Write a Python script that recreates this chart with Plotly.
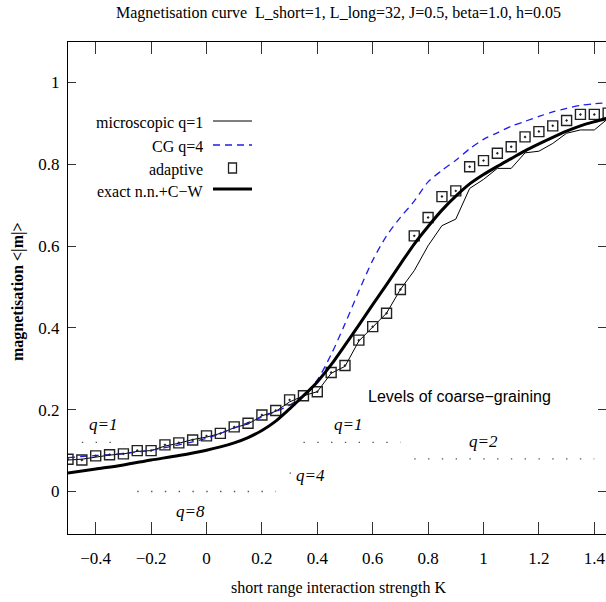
import plotly.graph_objects as go

# ---------------- data ----------------
K_grid = [-0.50, -0.45, -0.40, -0.35, -0.30, -0.25, -0.20, -0.15, -0.10, -0.05,
          0.00, 0.05, 0.10, 0.15, 0.20, 0.25, 0.30, 0.35, 0.40, 0.45,
          0.50, 0.55, 0.60, 0.65, 0.70, 0.75, 0.80, 0.85, 0.90, 0.95,
          1.00, 1.05, 1.10, 1.15, 1.20, 1.25, 1.30, 1.35, 1.40, 1.45]

micro_m = [0.077, 0.079, 0.084, 0.089, 0.092, 0.098, 0.100, 0.111, 0.118, 0.127,
           0.133, 0.142, 0.156, 0.165, 0.185, 0.196, 0.219, 0.234, 0.244, 0.289,
           0.306, 0.368, 0.402, 0.436, 0.494, 0.540, 0.601, 0.650, 0.666, 0.741,
           0.763, 0.790, 0.790, 0.828, 0.832, 0.851, 0.876, 0.884, 0.884, 0.912]

adapt_m = [0.079, 0.077, 0.087, 0.090, 0.092, 0.100, 0.100, 0.114, 0.119, 0.126,
           0.136, 0.142, 0.158, 0.167, 0.187, 0.198, 0.224, 0.234, 0.244, 0.291,
           0.308, 0.370, 0.403, 0.436, 0.494, 0.625, 0.670, 0.721, 0.735, 0.794,
           0.809, 0.827, 0.843, 0.867, 0.880, 0.894, 0.907, 0.922, 0.922, 0.925]

K_cg = [-0.50, -0.40, -0.30, -0.20, -0.10, 0.00, 0.10, 0.20, 0.30, 0.35,
        0.40, 0.45, 0.50, 0.55, 0.60, 0.65, 0.70, 0.75, 0.80, 0.85,
        0.90, 0.95, 1.00, 1.05, 1.10, 1.15, 1.20, 1.25, 1.30, 1.35, 1.40, 1.45]
cg_m = [0.083, 0.088, 0.093, 0.101, 0.114, 0.130, 0.155, 0.182, 0.211, 0.236,
        0.273, 0.335, 0.410, 0.490, 0.565, 0.625, 0.670, 0.710, 0.757, 0.785,
        0.810, 0.838, 0.861, 0.877, 0.893, 0.905, 0.917, 0.928, 0.937, 0.944, 0.948, 0.951]

K_exact = [-0.50, -0.40, -0.30, -0.20, -0.10, 0.00, 0.05, 0.10, 0.15, 0.20,
           0.25, 0.30, 0.35, 0.40, 0.45, 0.50, 0.55, 0.60, 0.65, 0.70,
           0.75, 0.80, 0.85, 0.90, 0.95, 1.00, 1.05, 1.10, 1.15, 1.20,
           1.25, 1.30, 1.35, 1.40, 1.45]
exact_m = [0.045, 0.055, 0.065, 0.077, 0.088, 0.101, 0.109, 0.119, 0.132, 0.149,
           0.172, 0.202, 0.234, 0.268, 0.310, 0.358, 0.407, 0.457, 0.506, 0.556,
           0.605, 0.648, 0.688, 0.722, 0.752, 0.775, 0.795, 0.814, 0.833, 0.850,
           0.866, 0.881, 0.894, 0.904, 0.913]

# levels of coarse-graining (dotted segments)
lvl_label = ["q=1", "q=1", "q=2", "q=4", "q=8"]
lvl_k0 = [-0.45, 0.35, 0.75, 0.30, -0.25]
lvl_k1 = [-0.30, 0.70, 1.40, 0.35, 0.25]
lvl_m = [0.12, 0.12, 0.08, 0.045, 0.0]

x_ticks = [-0.4, -0.2, 0, 0.2, 0.4, 0.6, 0.8, 1, 1.2, 1.4]
y_ticks = [0, 0.2, 0.4, 0.6, 0.8, 1]

legend_names = ["microscopic q=1", "CG q=4", "adaptive", "exact n.n.+C\u2212W"]

# ---------------- layout helpers ----------------
W, H = 606, 602
ML, MT, MB, MR = 68, 42, 68, 0
PW = W - ML - MR
PH = H - MT - MB
X_RANGE = [-0.5, -0.5 + PW / 277.0]
Y_RANGE = [(491.5 - 534) / 409.0, (491.5 - 42) / 409.0]


def px(x):
    return (x - ML) / PW


def py(y):
    return (H - MB - y) / PH


SERIF = "Liberation Serif, Times New Roman, serif"
SANS = "Liberation Sans, Arial, sans-serif"
BLUE = "rgb(30,30,235)"

fig = go.Figure()

# dotted level segments
for k0, k1, m in zip(lvl_k0, lvl_k1, lvl_m):
    fig.add_trace(go.Scatter(x=[k0, k1], y=[m, m], mode="lines",
                             line=dict(color="#555", width=1.3, dash="1.4px,12.4px"),
                             showlegend=False, hoverinfo="skip"))

fig.add_trace(go.Scatter(x=K_grid, y=micro_m, mode="lines", name=legend_names[0],
                         line=dict(color="black", width=1)))
fig.add_trace(go.Scatter(x=K_cg, y=cg_m, mode="lines", name=legend_names[1],
                         line=dict(color=BLUE, width=1.3, dash="7px,5px", shape="spline", smoothing=0.8)))
fig.add_trace(go.Scatter(x=K_grid, y=adapt_m, mode="markers", name=legend_names[2],
                         marker=dict(symbol="square-open-dot", size=10, color="#222",
                                     line=dict(width=1.4, color="#222"))))
fig.add_trace(go.Scatter(x=K_exact, y=exact_m, mode="lines", name=legend_names[3],
                         line=dict(color="black", width=3, shape="spline", smoothing=0.8)))
# helper trace so the right-hand tick axis is drawn
fig.add_trace(go.Scatter(x=[None], y=[None], yaxis="y2", showlegend=False, hoverinfo="skip"))

annotations = []
# level labels
lvl_pos = [(-0.374, 0.165), (0.51, 0.165), (1.001, 0.122), (0.375, 0.040), (-0.057, -0.050)]
for (kx, my), lab in zip(lvl_pos, lvl_label):
    annotations.append(dict(x=kx, y=my, xref="x", yref="y", text="<i>%s</i>" % lab,
                            xanchor="center", yanchor="middle",
                            showarrow=False, font=dict(family=SERIF, size=17, color="black")))
annotations.append(dict(x=0.914, y=0.232, xref="x", yref="y", text="Levels of coarse\u2212graining",
                        xanchor="center", yanchor="middle",
                        showarrow=False, font=dict(family=SANS, size=16, color="black")))

# title, axis titles
annotations.append(dict(x=px(338), y=py(13), xref="paper", yref="paper",
                        xanchor="center", yanchor="middle",
                        text="Magnetisation curve  L_short=1, L_long=32, J=0.5, beta=1.0, h=0.05",
                        showarrow=False, font=dict(family=SERIF, size=16, color="black")))
annotations.append(dict(x=px(338), y=py(588), xref="paper", yref="paper",
                        xanchor="center", yanchor="middle",
                        text="short range interaction strength K",
                        showarrow=False, font=dict(family=SERIF, size=16, color="black")))
annotations.append(dict(x=px(18), y=py(292), xref="paper", yref="paper",
                        xanchor="center", yanchor="middle",
                        text="<b>magnetisation &lt;|m|&gt;</b>", textangle=-90,
                        showarrow=False, font=dict(family=SERIF, size=16, color="black")))

# manual legend (text right-aligned, sample on the right)
leg_rows = [121, 145, 168, 189]
for name, yy in zip(legend_names, leg_rows):
    annotations.append(dict(x=px(205), y=py(yy + 2), xref="paper", yref="paper", text=name,
                            xanchor="right", yanchor="middle", showarrow=False,
                            font=dict(family=SERIF, size=16, color="black")))

shapes = [
    dict(type="line", xref="paper", yref="paper", x0=px(213), x1=px(252),
         y0=py(leg_rows[0]), y1=py(leg_rows[0]), line=dict(color="black", width=1)),
    dict(type="line", xref="paper", yref="paper", x0=px(213), x1=px(252),
         y0=py(leg_rows[1]), y1=py(leg_rows[1]), line=dict(color=BLUE, width=1.3, dash="7px,5px")),
    dict(type="rect", xref="paper", yref="paper", x0=px(228.5), x1=px(236.5),
         y0=py(leg_rows[2] + 5), y1=py(leg_rows[2] - 5), line=dict(color="#222", width=1.3)),
    dict(type="line", xref="paper", yref="paper", x0=px(213), x1=px(252),
         y0=py(leg_rows[3]), y1=py(leg_rows[3]), line=dict(color="black", width=3)),
]

fig.update_layout(
    width=W, height=H,
    margin=dict(l=ML, r=MR, t=MT, b=MB, pad=0),
    paper_bgcolor="white", plot_bgcolor="white",
    showlegend=False,
    annotations=annotations,
    shapes=shapes,
    xaxis=dict(range=X_RANGE, tickvals=x_ticks, ticks="inside", ticklen=12, tickwidth=1,
               tickcolor="#333", showline=True, linecolor="black", linewidth=1.3,
               mirror="ticks", showgrid=False, zeroline=False,
               tickfont=dict(family=SERIF, size=17, color="black"), ticklabelstandoff=8),
    yaxis=dict(range=Y_RANGE, tickvals=y_ticks, ticks="inside", ticklen=8, tickwidth=1,
               tickcolor="#333", showline=True, linecolor="black", linewidth=1.3,
               mirror=False, showgrid=False, zeroline=False,
               tickfont=dict(family=SERIF, size=17, color="black"), ticklabelstandoff=4),
    yaxis2=dict(range=Y_RANGE, tickvals=y_ticks, ticks="inside", ticklen=8, tickwidth=1,
                tickcolor="#333", overlaying="y", side="right", anchor="x",
                showticklabels=False, showline=False, showgrid=False, zeroline=False),
)

fig.write_html("out.html")
